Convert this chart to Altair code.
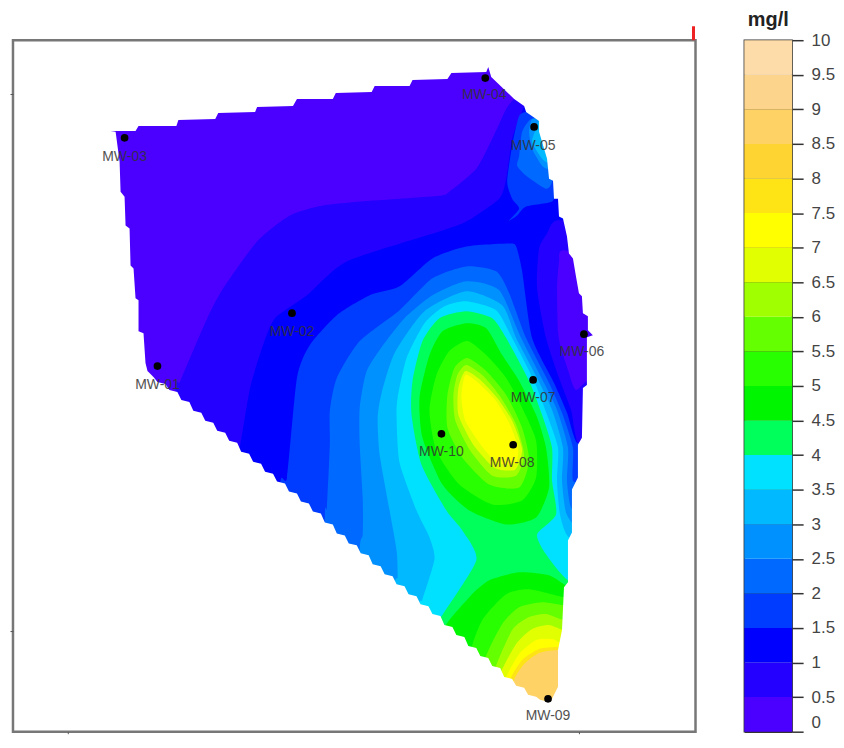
import altair as alt
import pandas as pd

LEVELS = [0, 0.5, 1, 1.5, 2, 2.5, 3, 3.5, 4, 4.5, 5, 5.5, 6, 6.5, 7, 7.5, 8, 8.5, 9, 9.5, 10]
COLORS = ["#4b00ff", "#2300ff", "#0000ff", "#003cff", "#0069ff", "#0091ff", "#00b9ff", "#00e1ff",
          "#00ff5a", "#00f500", "#28ff00", "#64ff00", "#a0ff00", "#e1ff00", "#ffff00", "#fee414",
          "#fed432", "#fed264", "#fdd48c", "#fddcaa"]

WELLS = ["MW-01", "MW-02", "MW-03", "MW-04", "MW-05", "MW-06", "MW-07", "MW-08", "MW-09", "MW-10"]
WELL_X = [157, 292, 124, 486, 535, 585, 534, 514, 549, 442]
WELL_Y = [368, 315, 139, 79, 128, 336, 382, 447, 702, 436]
LABEL_X = [157, 292, 124, 485, 534, 583, 534, 513, 549, 442]
LABEL_Y = [387, 334, 158, 96, 147, 354, 400, 465, 719, 454]

BASE = [(95, 60), (615, 60), (615, 725), (95, 725)]

# contour regions, lowest level first: (legend class index, outline)
REGIONS = [
    (1, [(175, 400), (180, 383), (207, 320), (223, 290), (257, 243), (290, 217), (323, 207), (373, 202),
         (440, 197), (450, 193), (477, 170), (493, 140), (507, 110), (515, 100), (530, 90), (600, 150),
         (600, 250), (563, 252), (560, 263), (558, 290), (559, 333), (562, 350), (570, 375), (577, 392),
         (600, 395), (600, 685), (175, 685)]),
    (2, [(235, 460), (240, 448), (250, 390), (263, 347), (275, 320), (307, 297), (347, 263), (440, 233),
         (467, 223), (500, 200), (507, 180), (513, 140), (522, 115), (527, 107), (560, 100), (600, 215),
         (557, 222), (548, 235), (540, 250), (538, 290), (547, 340), (560, 380), (572, 412), (579, 445),
         (600, 450), (600, 685), (235, 685)]),
    (3, [(280, 490), (287, 480), (297, 380), (310, 347), (337, 317), (370, 297), (400, 288), (433, 260),
         (467, 248), (510, 245), (517, 248), (523, 273), (533, 340), (555, 385), (568, 415), (578, 445),
         (600, 450), (600, 685), (280, 685)]),
    (3, [(510, 222), (520, 210), (513, 200), (508, 183), (513, 147), (520, 117), (530, 113), (540, 122),
         (552, 160), (556, 190), (553, 203), (527, 208), (518, 217)]),
    (4, [(325, 520), (327, 510), (330, 447), (330, 413), (337, 380), (360, 343), (400, 312), (433, 280),
         (467, 268), (497, 273), (510, 295), (527, 340), (550, 385), (563, 415), (574, 450), (574, 483),
         (590, 500), (600, 695), (325, 695)]),
    (4, [(520, 157), (523, 133), (532, 120), (545, 125), (556, 160), (553, 183), (547, 190), (527, 177), (518, 167)]),
    (5, [(360, 555), (363, 537), (363, 500), (360, 447), (360, 410), (367, 373), (385, 345), (405, 320),
         (433, 297), (467, 283), (500, 292), (522, 340), (545, 385), (558, 412), (569, 450), (568, 483),
         (572, 510), (585, 520), (600, 520), (600, 708), (360, 708)]),
    (5, [(533, 120), (530, 133), (533, 150), (543, 167), (550, 170), (556, 160), (543, 123)]),
    (6, [(395, 590), (398, 580), (397, 553), (390, 513), (380, 457), (378, 420), (382, 395), (395, 355),
         (425, 313), (467, 293), (503, 307), (517, 340), (538, 380), (553, 412), (564, 450), (563, 483),
         (567, 515), (578, 530), (600, 530), (600, 708), (395, 708)]),
    (6, [(537, 130), (533, 143), (543, 160), (550, 163), (552, 140), (541, 120)]),
    (7, [(420, 610), (423, 602), (435, 562), (430, 540), (417, 513), (400, 465), (397, 420), (398, 400),
         (407, 360), (425, 325), (445, 308), (467, 303), (497, 312), (513, 340), (535, 383), (548, 417),
         (559, 450), (558, 483), (561, 517), (570, 540), (600, 545), (600, 708), (420, 708)]),
    (8, [(440, 625), (443, 618), (477, 563), (463, 533), (447, 513), (422, 467), (412, 417), (413, 383),
         (423, 343), (440, 320), (467, 313), (493, 320), (507, 340), (530, 383), (543, 417), (553, 450),
         (553, 483), (557, 517), (538, 537), (547, 557), (569, 583), (600, 590), (600, 708), (440, 708)]),
    (9, [(467, 325), (443, 333), (430, 357), (420, 400), (423, 440), (443, 487), (470, 513), (507, 527),
         (537, 520), (550, 490), (547, 450), (537, 417), (520, 383), (503, 357), (487, 330)]),
    (9, [(440, 640), (470, 600), (490, 583), (520, 575), (550, 578), (570, 590), (600, 600), (600, 712), (440, 712)]),
    (10, [(468, 343), (450, 353), (437, 377), (430, 413), (437, 453), (460, 487), (493, 507), (523, 503),
          (537, 480), (537, 443), (523, 410), (507, 380), (487, 357)]),
    (10, [(470, 660), (483, 623), (507, 597), (530, 592), (565, 600), (600, 605), (600, 712), (470, 712)]),
    (11, [(468, 360), (455, 370), (448, 397), (448, 430), (463, 460), (490, 487), (520, 490), (530, 463),
          (523, 430), (507, 397), (487, 373)]),
    (11, [(485, 665), (503, 627), (520, 610), (543, 605), (565, 608), (600, 610), (600, 712), (485, 712)]),
    (12, [(467, 367), (458, 377), (454, 397), (456, 423), (471, 453), (493, 478), (517, 478), (525, 457),
          (517, 427), (502, 400), (484, 378)]),
    (12, [(495, 675), (513, 633), (530, 620), (547, 617), (565, 623), (600, 625), (600, 712), (495, 712)]),
    (13, [(466, 373), (459, 390), (459, 417), (474, 447), (495, 470), (516, 472), (523, 452), (513, 423),
          (498, 400), (480, 381)]),
    (13, [(500, 680), (517, 647), (533, 632), (550, 628), (565, 633), (600, 635), (600, 712), (500, 712)]),
    (14, [(466, 377), (462, 398), (466, 423), (483, 449), (498, 465), (516, 466), (519, 450), (510, 425),
          (496, 402), (478, 384)]),
    (14, [(505, 685), (520, 657), (537, 643), (553, 642), (565, 647), (600, 648), (600, 712), (505, 712)]),
    (15, [(510, 685), (523, 663), (540, 652), (557, 650), (565, 651), (600, 651), (600, 712), (510, 712)]),
    (17, [(514, 685), (525, 667), (540, 656), (558, 653), (600, 653), (600, 712), (514, 712)]),
]

# site outline, clockwise from the north-west corner
EDGE_TOP = [(110, 132), (135, 132), (138, 127), (176, 127), (178, 121), (215, 120), (218, 114), (255, 113),
            (257, 108), (293, 107), (297, 100), (333, 100), (336, 94), (372, 93), (375, 87), (410, 87),
            (413, 81), (448, 80), (452, 74), (487, 73), (489, 68), (492, 78), (515, 100), (525, 107),
            (527, 113), (540, 122), (540, 133), (548, 160), (550, 180), (554, 182), (555, 200), (559, 200),
            (560, 218), (564, 220), (568, 238), (570, 255), (574, 260), (577, 278), (580, 295), (583, 298),
            (584, 315), (589, 318), (589, 332), (594, 337), (588, 339), (588, 387), (584, 390), (583, 440),
            (579, 447), (579, 480), (573, 492), (573, 535), (569, 543), (569, 585), (565, 590), (563, 633),
            (559, 653), (559, 690), (553, 702)]
EDGE_DIAGONAL = [(549, 705), (537, 700), (525, 691), (513, 682), (501, 671), (489, 661), (477, 651), (465, 640),
                 (453, 630), (441, 619), (429, 609), (417, 599), (405, 589), (393, 579), (381, 569), (369, 558),
                 (357, 548), (345, 538), (333, 527), (321, 516), (309, 506), (297, 496), (285, 486), (273, 476),
                 (261, 466), (249, 456), (237, 445), (225, 435), (213, 425), (201, 415), (189, 404), (177, 394),
                 (165, 386), (153, 379), (147, 373)]
EDGE_WEST = [(145, 365), (143, 335), (138, 333), (138, 302), (135, 300), (133, 270), (130, 267), (129, 230),
             (125, 227), (124, 198), (120, 193), (119, 163), (115, 133)]
MASK_BOX = [(110, 132), (85, 132), (85, 732), (630, 732), (630, 50), (85, 50), (85, 132)]

X_TICKS = [67, 580]
Y_TICKS = [95, 634]
RED_MARK_X = [695]
RED_MARK_TOP = [27]
RED_MARK_BOTTOM = [41]

diagonal = []
for a, b in zip(EDGE_DIAGONAL, EDGE_DIAGONAL[1:]):
    diagonal += [a, (b[0] + 4, a[1] - 2)]
diagonal.append(EDGE_DIAGONAL[-1])
outline = EDGE_TOP + diagonal + EDGE_WEST + MASK_BOX

X = alt.Scale(domain=[12, 697], nice=False, zero=False)
Y = alt.Scale(domain=[735, 41], nice=False, zero=False)
x_axis = alt.Axis(values=X_TICKS, labels=False, title=None, grid=False, domain=False, ticks=True,
                  tickSize=2, tickColor="#555555")
y_axis = alt.Axis(values=Y_TICKS, labels=False, title=None, grid=False, domain=False, ticks=True,
                  tickSize=3, tickColor="#555555")


def polygon(points, colour, smooth=True):
    df = pd.DataFrame({"x": [p[0] for p in points], "y": [p[1] for p in points], "i": range(len(points))})
    style = {"interpolate": "cardinal-closed", "tension": 0.35} if smooth else {}
    return alt.Chart(df).mark_line(fill=colour, stroke=colour, strokeWidth=0, opacity=1, **style).encode(
        x=alt.X("x:Q", scale=X, axis=x_axis),
        y=alt.Y("y:Q", scale=Y, axis=y_axis),
        order="i:Q",
    )


layers = [polygon(BASE, COLORS[0], smooth=False)]
layers += [polygon(pts, COLORS[k]) for k, pts in REGIONS]
layers.append(polygon(outline, "#ffffff", smooth=False))

wells = pd.DataFrame({"name": WELLS, "x": WELL_X, "y": WELL_Y, "lx": LABEL_X, "ly": LABEL_Y})
layers.append(alt.Chart(wells).mark_circle(size=60, color="#000000", opacity=1).encode(
    x=alt.X("x:Q", scale=X, axis=x_axis), y=alt.Y("y:Q", scale=Y, axis=y_axis)))
layers.append(alt.Chart(wells).mark_text(font="Liberation Sans", fontSize=14, color="#333333", opacity=0.85).encode(
    x=alt.X("lx:Q", scale=X, axis=x_axis), y=alt.Y("ly:Q", scale=Y, axis=y_axis), text="name:N"))

red = pd.DataFrame({"x": RED_MARK_X, "y": RED_MARK_TOP, "y2": RED_MARK_BOTTOM})
layers.append(alt.Chart(red).mark_rule(color="#ee2222", strokeWidth=3).encode(
    x=alt.X("x:Q", scale=X, axis=x_axis), y=alt.Y("y:Q", scale=Y, axis=y_axis), y2="y2:Q"))

map_panel = alt.layer(*layers).properties(
    width=685, height=694, view=alt.ViewBackground(stroke="#777777", strokeWidth=2.5))

legend = pd.DataFrame({"lo": LEVELS[:-1], "hi": LEVELS[1:], "c": COLORS})
bar_scale = alt.Scale(domain=[0, 10], nice=False, zero=False)
bar_axis = alt.Axis(values=LEVELS, orient="right", title=None, grid=True, gridColor="#333333", gridWidth=1.5,
                    domain=False, tickColor="#333333", tickWidth=1.5, tickSize=11, labelPadding=8,
                    labelFont="Liberation Sans", labelFontSize=17, labelColor="#444444",
                    labelBaseline={"condition": {"test": "datum.value === 0", "value": "bottom"}, "value": "middle"},
                    labelExpr="format(datum.value, '')", labelOverlap=False, labelBound=False, labelFlush=False)
bar = alt.Chart(legend).mark_rect().encode(
    y=alt.Y("lo:Q", scale=bar_scale, axis=bar_axis),
    y2="hi:Q",
    color=alt.Color("c:N", scale=None),
)
unit = alt.Chart(pd.DataFrame({"t": ["mg/l"], "y": [10.285]})).mark_text(
    font="Liberation Sans", fontSize=20, fontWeight="bold", color="#222222"
).encode(y=alt.Y("y:Q", scale=bar_scale, axis=bar_axis), text="t:N", x=alt.value(24))
bar_panel = alt.layer(bar, unit).properties(
    width=48, height=694, view=alt.ViewBackground(stroke="#333333", strokeWidth=1.5))

chart = alt.hconcat(map_panel, bar_panel, spacing=46).properties(
    padding={"left": 0, "top": 0, "right": 0, "bottom": 0},
    background="#ffffff",
).configure_concat(spacing=46)
chart.save("out.html", embed_options={"renderer": "svg", "actions": False})
